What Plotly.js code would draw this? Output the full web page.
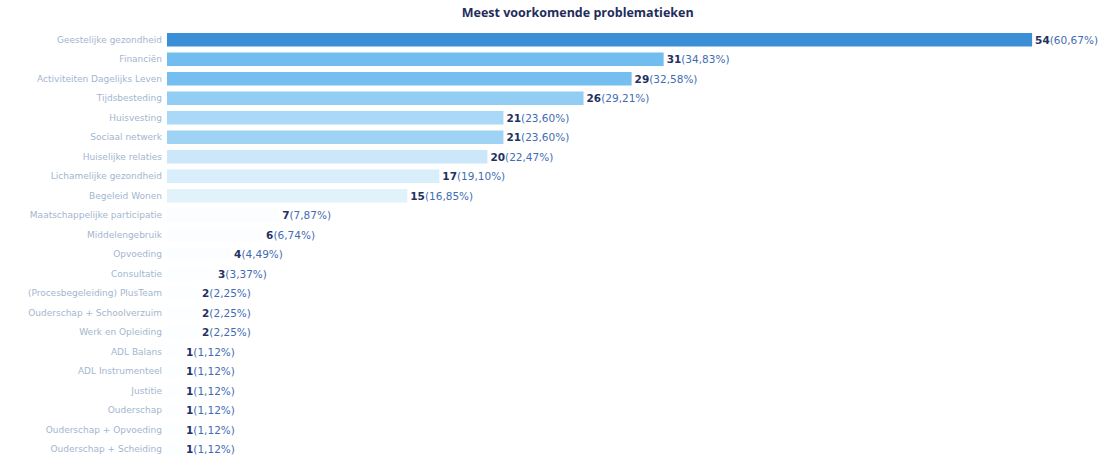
<!DOCTYPE html>
<html>
<head>
<meta charset="utf-8">
<script src="https://cdn.plot.ly/plotly-3.0.1.min.js"></script>
<style>
  html, body { margin: 0; padding: 0; background: #fff; }
  #chart { width: 1111px; height: 459px; }
</style>
</head>
<body>
<div id="chart"></div>
<script>
// Categories (top to bottom)
const categories = [
    "Geestelijke gezondheid",
    "Financiën",
    "Activiteiten Dagelijks Leven",
    "Tijdsbesteding",
    "Huisvesting",
    "Sociaal netwerk",
    "Huiselijke relaties",
    "Lichamelijke gezondheid",
    "Begeleid Wonen",
    "Maatschappelijke participatie",
    "Middelengebruik",
    "Opvoeding",
    "Consultatie",
    "(Procesbegeleiding) PlusTeam",
    "Ouderschap + Schoolverzuim",
    "Werk en Opleiding",
    "ADL Balans",
    "ADL Instrumenteel",
    "Justitie",
    "Ouderschap",
    "Ouderschap + Opvoeding",
    "Ouderschap + Scheiding"
];

const counts = [54, 31, 29, 26, 21, 21, 20, 17, 15, 7, 6, 4, 3, 2, 2, 2, 1, 1, 1, 1, 1, 1];

const percents = ["60,67", "34,83", "32,58", "29,21", "23,60", "23,60", "22,47", "19,10", "16,85",
    "7,87", "6,74", "4,49", "3,37", "2,25", "2,25", "2,25",
    "1,12", "1,12", "1,12", "1,12", "1,12", "1,12"];

// bar fill, fading from dark to almost white
const barColors = ["#3b8fd6", "#72bdf0", "#74bef0", "#92cef4", "#a9d9f6", "#9fd3f5", "#cbe7f9",
    "#d8eefa", "#e2f2fb", "#fbfdfe", "#fcfdfe", "#fcfdfe", "#fdfeff", "#fdfeff", "#fdfeff",
    "#fdfeff", "#fdfeff", "#fdfeff", "#fdfeff", "#fdfeff", "#fdfeff", "#fdfeff"];

function buildLabels() {
    return counts.map((c, i) =>
        `<b>${c}</b><span style="color:#3f6db3">(${percents[i]}%)</span>`);
}

function drawChart() {
    const trace = {
        type: 'bar',
        orientation: 'h',
        x: counts,
        y: categories,
        marker: { color: barColors },
        text: buildLabels(),
        textposition: 'outside',
        cliponaxis: false,
        textfont: { family: '"DejaVu Sans", sans-serif', size: 10.5, color: '#23315e' },
        hoverinfo: 'none'
    };

    const layout = {
        width: 1111,
        height: 459,
        title: {
            text: '<b>Meest voorkomende problematieken</b>',
            font: { family: '"Open Sans", sans-serif', size: 12.5, color: '#1f2d5c' },
            x: 0.52, xanchor: 'center', y: 0.972, yanchor: 'middle'
        },
        margin: { l: 167, r: 10, t: 30, b: 0 },
        bargap: 0.32,
        xaxis: {
            range: [0, 58.3],
            visible: false,
            showgrid: false,
            zeroline: false
        },
        yaxis: {
            autorange: 'reversed',
            showgrid: false,
            zeroline: false,
            ticks: '',
            ticklabelstandoff: 4,
            tickfont: { family: '"DejaVu Sans", sans-serif', size: 9, color: '#a3b6cf' }
        },
        showlegend: false,
        plot_bgcolor: '#fff',
        paper_bgcolor: '#fff'
    };

    Plotly.newPlot('chart', [trace], layout, { displayModeBar: false, staticPlot: true });
}

drawChart();
</script>
</body>
</html>
